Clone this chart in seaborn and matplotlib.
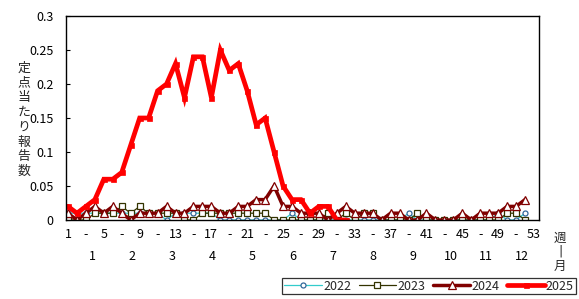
import numpy as np
import pandas as pd
import matplotlib
matplotlib.use("Agg")
import matplotlib.pyplot as plt
import matplotlib.transforms as mtransforms
import seaborn as sns

# ---------------- data ----------------
weeks = list(range(1, 53))
v2022 = ([0.01] * 11 + [0.0] + [0.01] * 5 + [0.0] * 8 + [0.01] + [0.0] * 12
         + [0.01] + [0.0] * 9 + [0.01] + [0.0, 0.0] + [0.01])
v2023 = [0, 0, 0, .01, .01, .01, .02, .01, .02, .01, .01, .01, .01, 0, 0, .01,
         .01, .01, .01, .01, .01, .01, .01, 0, 0, 0, 0, 0, 0, .01, 0, .01, 0,
         .01, .01, 0, 0, 0, 0, .01, 0, 0, 0, 0, 0, 0, 0, 0, 0, .01, .01, 0]
v2024 = [.01, 0, .01, .02, .01, .02, .01, 0, .01, .01, .01, .02, .01, .01,
         .02, .02, .02, .01, .01, .02, .02, .03, .03, .05, .02, .02, .01, .01,
         .01, 0, .01, .02, .01, .01, .01, 0, .01, .01, 0, 0, .01, 0, 0, 0,
         .01, 0, .01, .01, .01, .02, .02, .03]
v2025 = [.02, .01, .02, .03, .06, .06, .07, .11, .15, .15, .19, .20, .23, .18,
         .24, .24, .18, .25, .22, .23, .19, .14, .15, .10, .05, .03, .03, .01,
         .02, .02, .00, .00]
series_names = ["2022", "2023", "2024", "2025"]
month_labels = ["1", "2", "3", "4", "5", "6", "7", "8", "9", "10", "11", "12"]
y_ticks = [0, 0.05, 0.1, 0.15, 0.2, 0.25, 0.3]
y_ticklabels = ["0", "0.05", "0.1", "0.15", "0.2", "0.25", "0.3"]
ylabel_text = "定点当たり報告数"

# ---------------- style ----------------
sns.set_theme(style="white")
plt.rcParams['font.family'] = ['Noto Sans CJK JP', 'DejaVu Sans']
plt.rcParams['axes.unicode_minus'] = False
FS = 9

fig = plt.figure(figsize=(5.79, 2.99), dpi=100)
W, H = 579, 299
L, R, T, B = 66, 539, 16, 220
ax = fig.add_axes([L / W, (H - B) / H, (R - L) / W, (B - T) / H])

styles = {
    "2022": dict(color="#33CCCC", lw=0.9, marker="o", ms=3.6, mec="#336699", mfc="white", mew=0.9),
    "2023": dict(color="#333300", lw=0.9, marker="s", ms=4.0, mec="#333300", mfc="white", mew=0.9),
    "2024": dict(color="#800000", lw=2.5, marker="^", ms=5.8, mec="#800000", mfc="white", mew=0.9),
    "2025": dict(color="#FF0000", lw=3.4, marker="s", ms=3.6, mec="#FF0000", mfc="#FF0000", mew=0.5),
}
values = {"2022": v2022, "2023": v2023, "2024": v2024, "2025": v2025}

for name in series_names:
    vals = values[name]
    df = pd.DataFrame({"week": weeks[:len(vals)], "value": vals})
    st = styles[name]
    sns.lineplot(data=df, x="week", y="value", ax=ax, color=st["color"],
                 linewidth=st["lw"], marker=st["marker"], markersize=st["ms"],
                 markeredgecolor=st["mec"], markerfacecolor=st["mfc"],
                 markeredgewidth=st["mew"], label=name, legend=False,
                 solid_joinstyle="miter")

ax.set_xlim(0.78, 53.56)
ax.set_ylim(0, 0.3)
ax.set_yticks(y_ticks)
ax.set_yticklabels(y_ticklabels)
xt = list(range(1, 54, 2))
ax.set_xticks(xt)
ax.set_xticklabels([str(w) if (w - 1) % 4 == 0 else "-" for w in xt])
ax.tick_params(axis="y", direction="in", length=3, width=0.8, colors="black",
               labelsize=FS, pad=9, left=True)
ax.tick_params(axis="x", length=0, labelsize=FS, pad=6, colors="black")
ax.set_xlabel("")
ax.set_ylabel("")
for s in ax.spines.values():
    s.set_visible(True)
    s.set_color("black")
    s.set_linewidth(1.0)
ax.grid(False)

# month labels
month_pos = [3.7, 8.15, 12.6, 17.1, 21.5, 26.1, 30.6, 35.0, 39.5, 43.7, 47.6, 51.7]
trans = mtransforms.blended_transform_factory(ax.transData, ax.transAxes)
for pos, lab in zip(month_pos, month_labels):
    ax.text(pos, -(257 - B) / (B - T), lab, transform=trans, ha="center",
            va="center", fontsize=FS, color="black")

# 週 | 月 label
fig.text(560 / W, 1 - 238 / H, "週", ha="center", va="center", fontsize=FS)
fig.text(560 / W, 1 - 251 / H, "|", ha="center", va="center", fontsize=FS,
         family="DejaVu Sans")
fig.text(560 / W, 1 - 266 / H, "月", ha="center", va="center", fontsize=FS)

# vertical y label, one character per line
y0, step = 68, 14.8
for i, ch in enumerate(ylabel_text):
    fig.text(24 / W, 1 - (y0 + i * step) / H, ch, ha="center", va="center",
             fontsize=9.3)

# legend
handles, labels = ax.get_legend_handles_labels()
leg = fig.legend(handles, labels, loc="center", ncol=4,
                 bbox_to_anchor=(429 / W, 1 - 286 / H), frameon=True,
                 fontsize=FS, handlelength=3.0, columnspacing=0.6,
                 handletextpad=0.1, borderpad=0.15, fancybox=False)
leg.get_frame().set_edgecolor("black")
leg.get_frame().set_linewidth(0.9)

fig.savefig("out.png", dpi=100)
